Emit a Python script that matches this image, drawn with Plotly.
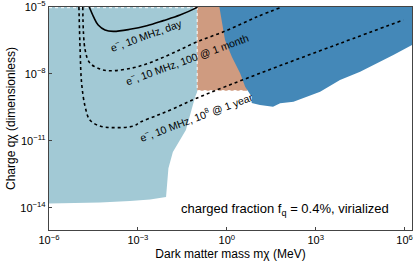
import numpy as np
import plotly.graph_objects as go

# ---- data (log10 values) ----
# light-blue excluded region (mass log10 MeV, charge log10)
lb_m = [-6, -1.0, -1.0, -1.07, -1.38, -1.68, -1.82, -1.97, -2.05, -2.59, -3.27, -4.28, -6]
lb_q = [-5, -5, -8.8, -9.04, -10.52, -11.19, -11.50, -12.23, -13.52, -13.63, -13.70, -13.77, -13.81]

# orange region
or_m = [-1.0, 0.69, 0.69, -1.0]
or_q = [-5, -5, -8.75, -8.75]

# blue region
bl_m = [-0.25, -0.06, 0.17, 0.45, 0.62, 0.84, 0.84, 1.12, 1.56, 1.80, 2.25, 3.15, 3.82, 4.50, 5.62, 6.25, 6.25]
bl_q = [-5, -6.48, -7.23, -7.97, -8.57, -9.02, -9.30, -9.39, -9.47, -9.32, -9.25, -8.80, -8.27, -7.90, -7.15, -6.70, -5]

# projected sensitivity curves
day_m = [-4.64, -4.50, -4.34, -4.11, -3.83, -3.27, -2.70, -2.14, -1.58, -1.07, -0.99]
day_q = [-5.0, -5.43, -5.81, -6.03, -6.09, -6.00, -5.84, -5.61, -5.36, -5.06, -5.0]

month_m = [-4.86, -4.78, -4.62, -4.28, -3.94, -3.17, -2.5, -1.8, -1.0, 0.0, 1.0, 1.86]
month_q = [-5.0, -6.93, -7.51, -7.78, -7.86, -7.73, -7.45, -7.05, -6.56, -6.05, -5.45, -5.0]

year_m = [-4.99, -4.95, -4.90, -4.78, -4.62, -4.28, -3.83, -3.15, -2.93, -2.37, -1.80, -1.02, 1.12, 3.82, 5.96]
year_q = [-5.0, -6.93, -8.41, -9.47, -10.07, -10.34, -10.41, -10.34, -10.17, -9.87, -9.56, -9.09, -7.97, -6.63, -5.58]

x_ticks = [-6, -3, 0, 3, 6]
x_ticktext = ["10<sup>−6</sup>", "10<sup>−3</sup>", "10<sup>0</sup>", "10<sup>3</sup>", "10<sup>6</sup>"]
y_ticks = [-14, -11, -8, -5]
y_ticktext = ["10<sup>−14</sup>", "10<sup>−11</sup>", "10<sup>−8</sup>", "10<sup>−5</sup>"]

labels = ["e<sup>−</sup>, 10 MHz, day",
          "e<sup>−</sup>, 10 MHz, 100 @ 1 month",
          "e<sup>−</sup>, 10 MHz, 10<sup>8</sup> @ 1 year"]
label_m = [-2.73, -1.33, -1.04]
label_q = [-6.21, -7.33, -9.89]
label_angle = [-20, -20, -20.5]

note_text = "charged fraction f<sub>q</sub> = 0.4%, virialized"
note_m, note_q = 1.98, -14.06

p = lambda a: np.power(10.0, np.array(a, dtype=float))

LIGHT = "#a2c9d5"
ORANGE = "#cf9b80"
BLUE = "#4488b8"
FONT = "Liberation Sans, Arial"

fig = go.Figure()
fig.add_trace(go.Scatter(x=p(lb_m), y=p(lb_q), fill="toself", fillcolor=LIGHT,
                         line=dict(width=0), mode="lines", hoverinfo="skip"))
fig.add_trace(go.Scatter(x=p(or_m), y=p(or_q), fill="toself", fillcolor=ORANGE,
                         line=dict(width=0), mode="lines", hoverinfo="skip"))
fig.add_trace(go.Scatter(x=p(bl_m), y=p(bl_q), fill="toself", fillcolor=BLUE,
                         line=dict(width=0), mode="lines", hoverinfo="skip"))
# white dotted borders of the orange region
fig.add_trace(go.Scatter(x=p([-1.0, -1.0, 0.62]), y=p([-5, -8.75, -8.75]), mode="lines",
                         line=dict(color="white", width=1, dash="dot"), hoverinfo="skip"))
fig.add_trace(go.Scatter(x=p([-6, -1.0]), y=p([-5.03, -5.03]), mode="lines",
                         line=dict(color="white", width=1, dash="dot"), hoverinfo="skip"))

fig.add_trace(go.Scatter(x=p(day_m), y=p(day_q), mode="lines",
                         line=dict(color="black", width=1.6, shape="spline"), hoverinfo="skip"))
fig.add_trace(go.Scatter(x=p(month_m), y=p(month_q), mode="lines",
                         line=dict(color="black", width=1.6, dash="dot", shape="spline"), hoverinfo="skip"))
fig.add_trace(go.Scatter(x=p(year_m), y=p(year_q), mode="lines",
                         line=dict(color="black", width=1.6, dash="dot", shape="spline"), hoverinfo="skip"))

for t, m, q, a in zip(labels, label_m, label_q, label_angle):
    fig.add_annotation(x=m, y=q, xref="x", yref="y", text=t, textangle=a, showarrow=False,
                       font=dict(size=10.5, color="black", family=FONT))

fig.add_annotation(x=note_m, y=note_q, xref="x", yref="y", text=note_text, showarrow=False,
                   font=dict(size=13, color="black", family=FONT))

axis_common = dict(type="log", showgrid=False, zeroline=False, showline=True, mirror=True,
                   linecolor="#444", linewidth=1.3, ticks="inside", ticklen=3, tickcolor="#444",
                   automargin=False, ticklabeloverflow="allow",
                   tickfont=dict(size=11, color="black", family=FONT))

fig.update_xaxes(range=[-6.0001, 6.25], tickvals=p(x_ticks), ticktext=x_ticktext,
                 title=dict(text="Dark matter mass mχ (MeV)", standoff=4,
                            font=dict(size=12, color="black", family=FONT)),
                 **axis_common)
fig.update_yaxes(range=[-15, -4.999], tickvals=p(y_ticks), ticktext=y_ticktext,
                 title=dict(text="Charge qχ (dimensionless)", standoff=2,
                            font=dict(size=12, color="black", family=FONT)),
                 **axis_common)

fig.update_layout(width=415, height=268, margin=dict(l=49, r=3, t=7, b=38),
                  paper_bgcolor="white", plot_bgcolor="white", showlegend=False)

fig.write_html("out.html", config={"displayModeBar": False},
               post_script="document.body.style.margin='0';")
